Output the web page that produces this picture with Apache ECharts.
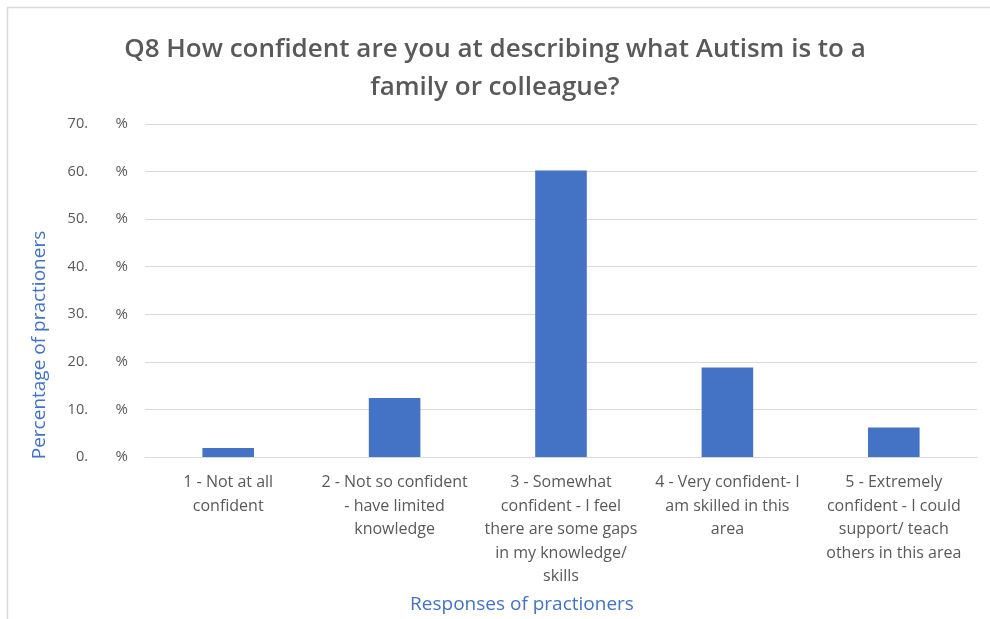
<!DOCTYPE html>
<html>
<head>
<meta charset="utf-8">
<script src="https://cdn.jsdelivr.net/npm/echarts@6/dist/echarts.min.js"></script>
<style>
  html, body { margin: 0; padding: 0; background: #ffffff; }
  #chart { width: 990px; height: 619px; }
</style>
</head>
<body>
<div id="chart"></div>
<script>
// Survey responses (share of practitioners, %)
const categories = [
  '1 - Not at all\nconfident',
  '2 - Not so confident\n- have limited\nknowledge',
  '3 - Somewhat\nconfident - I feel\nthere are some gaps\nin my knowledge/\nskills',
  '4 - Very confident- I\nam skilled in this\narea',
  '5 - Extremely\nconfident - I could\nsupport/ teach\nothers in this area'
];
const values = [1.9, 12.4, 60.2, 18.8, 6.2];
const yTicks = [0, 10, 20, 30, 40, 50, 60, 70];

const titleText = 'Q8 How confident are you at describing what Autism is to a\nfamily or colleague?';
const yTitle = 'Percentage of practioners';
const xTitle = 'Responses of practioners';

const FONT = '"Open Sans", "Liberation Sans", sans-serif';
const GREY = '#595959';
const BLUE = '#4472C4';

const chart = echarts.init(document.getElementById('chart'), null, { renderer: 'canvas' });

chart.setOption({
  backgroundColor: '#ffffff',
  animation: false,
  title: {
    text: titleText,
    left: 'center',
    top: 26,
    textStyle: {
      fontFamily: FONT,
      fontSize: 26,
      fontWeight: 600,
      color: GREY,
      lineHeight: 38
    }
  },
  grid: { left: 145, right: 13, top: 124, bottom: 162 },
  xAxis: {
    type: 'category',
    data: categories,
    axisLine: { show: true, lineStyle: { color: '#d9d9d9', width: 1 } },
    axisTick: { show: false },
    axisLabel: {
      interval: 0,
      margin: 14,
      fontFamily: FONT,
      fontSize: 16,
      lineHeight: 23.5,
      color: GREY
    }
  },
  yAxis: {
    type: 'value',
    min: yTicks[0],
    max: yTicks[yTicks.length - 1],
    interval: yTicks[1] - yTicks[0],
    axisLine: { show: false },
    axisTick: { show: false },
    splitLine: { lineStyle: { color: '#d9d9d9', width: 1 } },
    axisLabel: {
      margin: 17,
      formatter: v => `{n|${v}.}{p|%}`,
      rich: {
        n: { fontFamily: FONT, fontSize: 14.5, color: GREY, width: 30, align: 'right' },
        p: { fontFamily: FONT, fontSize: 15, color: GREY, width: 40, align: 'right' }
      }
    }
  },
  series: [{
    type: 'bar',
    data: values,
    barWidth: '31%',
    itemStyle: { color: BLUE }
  }],
  graphic: [
    {
      type: 'rect',
      silent: true,
      shape: { x: 7.5, y: 7.5, width: 1000, height: 700 },
      style: { fill: 'none', stroke: '#d9d9d9', lineWidth: 1.5 }
    },
    {
      type: 'text',
      x: 40, y: 345,
      rotation: Math.PI / 2,
      style: {
        text: yTitle,
        fontFamily: FONT, fontSize: 19, fill: BLUE,
        align: 'center', verticalAlign: 'middle'
      }
    },
    {
      type: 'text',
      x: 522, y: 605,
      style: {
        text: xTitle,
        fontFamily: FONT, fontSize: 19, fill: BLUE,
        align: 'center', verticalAlign: 'middle'
      }
    }
  ]
});
</script>
</body>
</html>
